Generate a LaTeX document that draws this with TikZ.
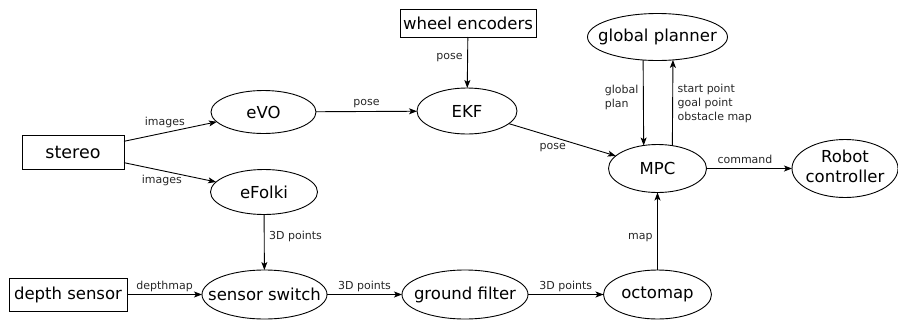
\documentclass[tikz,border=0pt]{standalone}
\usepackage{fontspec}
\setmainfont{DejaVu Sans}
\usetikzlibrary{arrows.meta,shapes.geometric}
% zero-width box: the ellipse size comes from the style, not the text
\newcommand\ctr[1]{\makebox[0pt]{#1}}

\begin{document}
\begin{tikzpicture}[x=1pt,y=-1pt,
  every node/.style={inner sep=0pt, outer sep=0pt},
  proc/.style={draw, ellipse, line width=0.9pt, font=\fontsize{16.5}{20}\selectfont},
  srcbox/.style={draw, rectangle, line width=0.9pt, font=\fontsize{16.5}{20}\selectfont},
  flow/.style={-{Stealth[length=8pt,width=6pt,inset=2pt]}, line width=0.9pt},
  tag/.style={font=\fontsize{11}{14}\selectfont, text=black!85}]
\useasboundingbox (0,0) rectangle (898,322);

% sources
\node[srcbox, minimum width=102, minimum height=34, font=\fontsize{17.5}{20}\selectfont] (stereo) at (73,152) {\ctr{stereo}};
\node[srcbox, minimum width=136, minimum height=28] (wheel) at (468,23) {\ctr{wheel encoders}};
\node[srcbox, minimum width=118, minimum height=33] (depth) at (68,294.5) {\ctr{depth sensor}};

% processing stages
\node[proc, minimum width=105, minimum height=43] (evo) at (263.5,112) {\ctr{eVO}};
\node[proc, minimum width=107, minimum height=45] (efolki) at (264,192) {\ctr{eFolki}};
\node[proc, minimum width=100, minimum height=46] (ekf) at (467,111) {\ctr{EKF}};
\node[proc, minimum width=140, minimum height=47] (gplan) at (657.5,37) {\ctr{global planner}};
\node[proc, minimum width=98, minimum height=48] (mpc) at (657.5,168.5) {\ctr{MPC}};
\node[proc, minimum width=106, minimum height=58] (robot) at (845,168.5)
  {\ctr{\begin{tabular}{@{}c@{}}Robot\\controller\end{tabular}}};
\node[proc, minimum width=125, minimum height=49] (switch) at (264.5,294.5) {\ctr{sensor switch}};
\node[proc, minimum width=126, minimum height=49] (ground) at (465,294.5) {\ctr{ground filter}};
\node[proc, minimum width=108, minimum height=49] (octo) at (657.5,294.5) {\ctr{octomap}};

% data flow
\draw[flow] (stereo) -- node[tag, pos=.44, above=5pt] {images} (evo);
\draw[flow] (stereo) -- node[tag, pos=.41, below=5pt] {images} (efolki);
\draw[flow] (evo) -- node[tag, above=4pt] {pose} (ekf);
\draw[flow] (wheel) -- node[tag, pos=.4, left=5pt] {pose} (ekf);
\draw[flow] (ekf) -- node[tag, pos=.41, below=6pt] {pose} (mpc);
\draw[flow] (gplan.238) -- node[tag, pos=.44, left=5pt, align=left] {global\\plan} (mpc.121);
\draw[flow] (mpc.57) -- node[tag, pos=.49, right=5pt, align=left] {start point\\goal point\\obstacle map} (gplan.304);
\draw[flow] (mpc) -- node[tag, pos=.45, above=5pt] {command} (robot);
\draw[flow] (efolki) -- node[tag, pos=.4, right=5pt] {3D points} (switch);
\draw[flow] (depth) -- node[tag, above=3pt] {depthmap} (switch);
\draw[flow] (switch) -- node[tag, above=3pt] {3D points} (ground);
\draw[flow] (ground) -- node[tag, above=3pt] {3D points} (octo);
\draw[flow] (octo) -- node[tag, pos=.42, left=5pt] {map} (mpc);
\end{tikzpicture}
\end{document}
